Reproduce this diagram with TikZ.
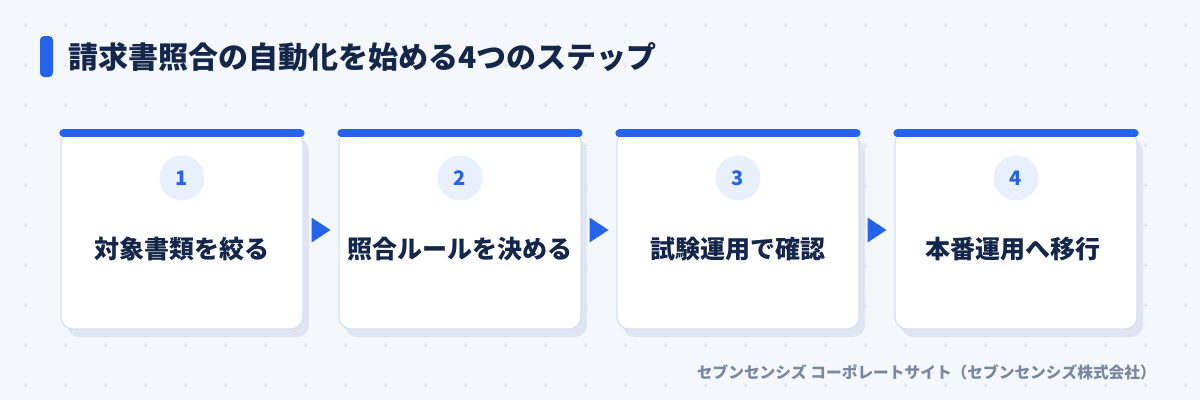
\documentclass[tikz,border=0pt]{standalone}
\usepackage{fontspec}
\setmainfont{Noto Sans CJK JP}
\usetikzlibrary{calc, shadows}

\definecolor{pagebg}{HTML}{F4F7FC}
\definecolor{gridmark}{HTML}{DFE5EF}
\definecolor{accent}{HTML}{2563EB}
\definecolor{navy}{HTML}{14264A}
\definecolor{cardline}{HTML}{D3DFEE}
\definecolor{cardshade}{HTML}{DFE6F2}
\definecolor{numfill}{HTML}{E8F0FD}
\definecolor{footgray}{HTML}{7B879F}

\begin{document}
\begin{tikzpicture}[
    x=1pt, y=-1pt,
    every node/.style={align=center, inner sep=0pt},
    card/.style={rectangle, rounded corners=12pt, draw=cardline, line width=1.2pt,
        fill=white, minimum width=242pt, minimum height=198pt,
        drop shadow={shadow xshift=6pt, shadow yshift=-8pt, fill=cardshade, opacity=1}},
    numdot/.style={circle, fill=numfill, minimum size=45pt, text=accent,
        font=\bfseries\fontsize{20}{22}\selectfont},
    steplabel/.style={text=navy, font=\bfseries\fontsize{25}{28}\selectfont}
]
    \def\pitch{278}

    \fill[pagebg] (0,0) rectangle (1200,400);
    \useasboundingbox (0,0) rectangle (1200,400);

    % faint plus grid
    \foreach \gx in {0,...,29}{
        \foreach \gy in {0,...,9}{
            \draw[gridmark, line width=0.9pt] (22.5+40*\gx, 25+40*\gy) -- ++(5,0)
                (25+40*\gx, 22.5+40*\gy) -- ++(0,5);
        }
    }

    % title
    \fill[accent, rounded corners=4pt] (40,36) rectangle (53,77);
    \node[anchor=west, text=navy, font=\bfseries\fontsize{30}{32}\selectfont] (title) at (68,57)
        {請求書照合の自動化を始める4つのステップ};

    % the four steps
    \foreach \i/\txt in {
        1/対象書類を絞る,
        2/照合ルールを決める,
        3/試験運用で確認,
        4/本番運用へ移行
    }{
        \pgfmathsetmacro\cx{182+\pitch*(\i-1)}
        \node[card] (card\i) at (\cx, 230) {};
        \draw[accent, line width=8pt, line cap=round]
            ([xshift=3pt, yshift=-3pt]card\i.north west) -- ([xshift=-3pt, yshift=-3pt]card\i.north east);
        \node[numdot] (num\i) at ($(card\i.north)+(0,47.5)$) {\i};
        \node[steplabel] (label\i) at ($(card\i.north)+(0,119)$) {\txt};
    }

    % arrows between steps
    \foreach \i/\j in {1/2, 2/3, 3/4}{
        \fill[accent] ($(card\i.east)!0.5!(card\j.west)$) ++(-9.5,-12.5) -- ++(19,12.5) -- ++(-19,12.5) -- cycle;
    }

    \node[anchor=east, text=footgray, font=\bfseries\fontsize{15.7}{17}\selectfont] (footer) at (1156,372)
        {セブンセンシズ コーポレートサイト（セブンセンシズ株式会社）};
\end{tikzpicture}
\end{document}
